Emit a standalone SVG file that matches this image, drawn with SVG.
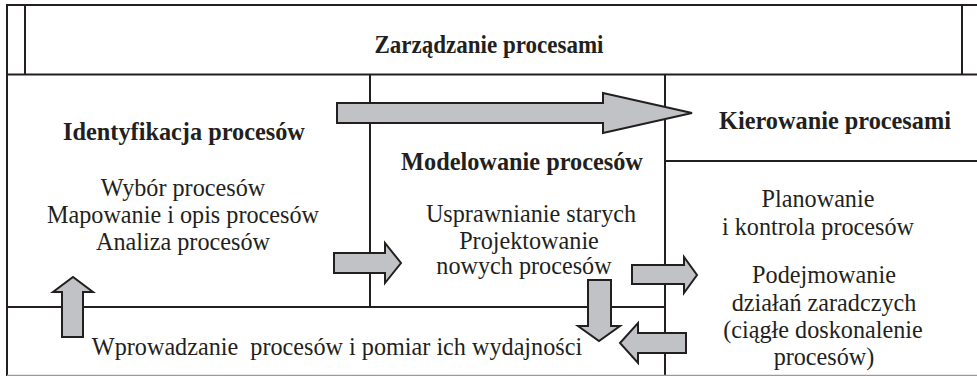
<svg xmlns="http://www.w3.org/2000/svg" width="977" height="376" viewBox="0 0 977 376">
<style>
.ln{stroke:#231f20;stroke-width:2;fill:none}
.lg{stroke:#9a9a9a;stroke-width:1.5;fill:none}
.ar{fill:#c1c2c6;stroke:#231f20;stroke-width:2;stroke-linejoin:miter}
text{fill:#231f20;text-anchor:middle}
.b{font-weight:bold;font-size:24.3px}
.r{font-size:24.2px}
.pre{white-space:pre}
</style>
<rect width="977" height="376" fill="#fff"/>
<g font-family="Liberation Serif, DejaVu Serif, serif">
<g id="zarzadzanie">
<line class="ln" x1="7" y1="5" x2="977" y2="5"/>
<line class="ln" x1="7" y1="74.5" x2="977" y2="74.5"/>
<line class="ln" x1="25" y1="5" x2="25" y2="74.5"/>
<line class="ln" x1="962" y1="5" x2="962" y2="74.5"/>
<line class="ln" x1="7" y1="4" x2="7" y2="376"/>
<text class="b" x="489" y="53" textLength="229" lengthAdjust="spacingAndGlyphs" font-size="25">Zarządzanie procesami</text>
</g>
<g id="identyfikacja">
<line class="ln" x1="370" y1="74.5" x2="370" y2="307"/>
<text class="b" x="184" y="140">Identyfikacja procesów</text>
<text class="r" x="183" y="196">Wybór procesów</text>
<text class="r" x="183" y="223">Mapowanie i opis procesów</text>
<text class="r" x="183" y="250">Analiza procesów</text>
</g>
<g id="modelowanie">
<text class="b" x="522" y="170">Modelowanie procesów</text>
<text class="r" x="531" y="222">Usprawnianie starych</text>
<text class="r" x="529" y="249">Projektowanie</text>
<text class="r" x="524" y="274">nowych procesów</text>
</g>
<g id="kierowanie">
<line class="ln" x1="665" y1="74.5" x2="665" y2="376"/>
<line class="ln" x1="665" y1="161" x2="977" y2="161"/>
<text class="b" x="835" y="129">Kierowanie procesami</text>
<text class="r" x="818" y="207">Planowanie</text>
<text class="r" x="818" y="235">i kontrola procesów</text>
<text class="r" x="824" y="283">Podejmowanie</text>
<text class="r" x="824" y="311">działań zaradczych</text>
<text class="r" x="823" y="338">(ciągłe doskonalenie</text>
<text class="r" x="824" y="365">procesów)</text>
</g>
<g id="wprowadzanie">
<line class="ln" x1="7" y1="307" x2="665" y2="307"/>
<line class="lg" x1="7" y1="375.5" x2="977" y2="375.5"/>
<text class="r pre" x="337" y="355">Wprowadzanie  procesów i pomiar ich wydajności</text>
</g>
</g>
<g id="connectors">
<polygon class="ar" points="337,103 603,103 603,93 692,113 603,133 603,123 337,123"/>
<polygon class="ar" points="334,253 385,253 385,243 401,263 385,283 385,273 334,273"/>
<polygon class="ar" points="62,337 62,292 53,292 73,277 93,292 83,292 83,337"/>
<polygon class="ar" points="632,265 684,265 684,257 697,275 684,293 684,284 632,284"/>
<polygon class="ar" points="588,280 611,280 611,326 620,326 599,341 578,326 588,326"/>
<polygon class="ar" points="686,333 638,333 638,323 620,343 638,363 638,353 686,353"/>
</g>
</svg>
